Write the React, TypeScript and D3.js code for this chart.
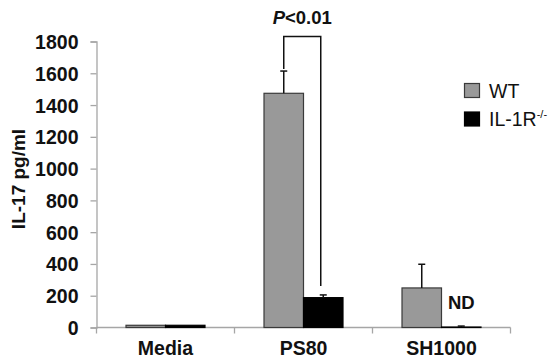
import React, { useEffect, useRef } from 'react';
import * as d3 from 'd3';

const categories = ['Media', 'PS80', 'SH1000'];
const series = ['WT', 'IL-1R'];
const wtValues = [14, 1474, 249];
const wtErrors = [0, 140, 149];
const koValues = [14, 188, 3];
const koErrors = [0, 17, 6];
const yTicks = [0, 200, 400, 600, 800, 1000, 1200, 1400, 1600, 1800];

const W = 556;
const H = 359;
const FONT = '"Liberation Sans", Arial, sans-serif';
const GRAY = '#999999';
const EDGE = '#3a3a3a';
const AXIS = '#a6a6a6';

export default function App() {
  const ref = useRef<SVGSVGElement>(null);

  useEffect(() => {
    if (!ref.current) return;
    const svg = d3.select(ref.current);
    svg.selectAll('*').remove();

    const x = d3.scaleBand().domain(categories).range([96.5, 510.5]).padding(0);
    const xs = d3.scaleBand().domain(series).range([0, x.bandwidth()]).paddingInner(0).paddingOuter(0.747);
    const y = d3.scaleLinear().domain([0, 1800]).range([327.5, 41.5]);

    const rows = categories.map((c, i) => [
      { cat: c, s: 'WT', v: wtValues[i], e: wtErrors[i], fill: GRAY, stroke: EDGE },
      { cat: c, s: 'IL-1R', v: koValues[i], e: koErrors[i], fill: '#000', stroke: '#000' },
    ]).flat();

    // y axis
    const ya = svg.append('g').attr('transform', 'translate(96.5,0)')
      .call(d3.axisLeft(y).tickValues(yTicks).tickFormat(d3.format('d')).tickSize(6).tickPadding(12));
    ya.select('.domain').attr('stroke', AXIS).attr('stroke-width', 1.3);
    ya.selectAll('line').attr('stroke', AXIS).attr('stroke-width', 1.3);
    ya.selectAll('text').attr('font-family', FONT).attr('font-size', '19.5px').attr('font-weight', 'bold')
      .attr('fill', '#111').attr('dy', '0.36em');

    // x axis
    const xa = svg.append('g').attr('transform', `translate(0,${y(0)})`);
    xa.append('line').attr('x1', 96.5).attr('x2', 510.5).attr('stroke', AXIS).attr('stroke-width', 1.3);
    const bounds = [...categories.map(c => x(c)!), x(categories[categories.length - 1])! + x.bandwidth()];
    xa.selectAll('line.tk').data(bounds).enter().append('line').attr('class', 'tk')
      .attr('x1', d => d).attr('x2', d => d).attr('y1', 0).attr('y2', 6)
      .attr('stroke', AXIS).attr('stroke-width', 1.3);
    xa.selectAll('text').data(categories).enter().append('text')
      .attr('x', d => x(d)! + x.bandwidth() / 2).attr('y', 27)
      .attr('text-anchor', 'middle').attr('font-family', FONT).attr('font-size', '19.5px')
      .attr('font-weight', 'bold').attr('fill', '#111').text(d => d);

    // bars
    svg.selectAll('rect.bar').data(rows).enter().append('rect').attr('class', 'bar')
      .attr('x', d => x(d.cat)! + xs(d.s)!).attr('width', xs.bandwidth())
      .attr('y', d => y(d.v)).attr('height', d => y(0) - y(d.v))
      .attr('fill', d => d.fill).attr('stroke', d => d.stroke).attr('stroke-width', 1.2);

    // error bars (upper only)
    const eb = rows.filter(d => d.e > 0);
    const cx = (d: any) => x(d.cat)! + xs(d.s)! + xs.bandwidth() / 2;
    svg.selectAll('line.err').data(eb).enter().append('line').attr('class', 'err')
      .attr('x1', cx).attr('x2', cx).attr('y1', d => y(d.v)).attr('y2', d => y(d.v + d.e))
      .attr('stroke', '#111').attr('stroke-width', 1.5);
    svg.selectAll('line.cap').data(eb).enter().append('line').attr('class', 'cap')
      .attr('x1', d => cx(d) - 3.5).attr('x2', d => cx(d) + 3.5)
      .attr('y1', d => y(d.v + d.e)).attr('y2', d => y(d.v + d.e))
      .attr('stroke', '#111').attr('stroke-width', 1.5);

    // significance bracket
    const a = rows.find(d => d.cat === 'PS80' && d.s === 'WT')!;
    const b = rows.find(d => d.cat === 'PS80' && d.s === 'IL-1R')!;
    const top = 36.5;
    const ax = cx(a);
    const bx = cx(b) - 2.5;
    svg.append('path')
      .attr('d', `M${ax},${y(a.v + a.e) - 2}V${top}H${bx}V${y(b.v + b.e) - 9}`)
      .attr('fill', 'none').attr('stroke', '#111').attr('stroke-width', 1.5);
    const pt = svg.append('text').attr('x', (ax + bx) / 2).attr('y', 24).attr('text-anchor', 'middle')
      .attr('font-family', FONT).attr('font-size', '18.5px').attr('font-weight', 'bold').attr('fill', '#111');
    pt.append('tspan').attr('font-style', 'italic').text('P');
    pt.append('tspan').text('<0.01');

    // ND label
    const nd = rows.find(d => d.cat === 'SH1000' && d.s === 'IL-1R')!;
    svg.append('text').attr('x', cx(nd)).attr('y', 309).attr('text-anchor', 'middle')
      .attr('font-family', FONT).attr('font-size', '18.5px').attr('font-weight', 'bold').attr('fill', '#111')
      .text('ND');

    // y title
    svg.append('text').attr('transform', 'translate(25,179) rotate(-90)').attr('text-anchor', 'middle')
      .attr('font-family', FONT).attr('font-size', '19px').attr('font-weight', 'bold').attr('fill', '#111')
      .text('IL-17 pg/ml');

    // legend
    const leg = svg.append('g').attr('transform', 'translate(464.5,83.5)');
    const legItems = [
      { fill: GRAY, stroke: EDGE, label: 'WT', sup: '' },
      { fill: '#000', stroke: '#000', label: 'IL-1R', sup: '-/-' },
    ];
    legItems.forEach((it, i) => {
      const g = leg.append('g').attr('transform', `translate(0,${i * 28.5})`);
      g.append('rect').attr('width', 15).attr('height', 14).attr('fill', it.fill).attr('stroke', it.stroke).attr('stroke-width', 1.2);
      const t = g.append('text').attr('x', 24.5).attr('y', 14).attr('font-family', FONT)
        .attr('font-size', '19.5px').attr('fill', '#111');
      t.append('tspan').text(it.label);
      if (it.sup) t.append('tspan').attr('font-size', '11px').attr('dy', -8).text(it.sup);
    });
  }, []);

  return (
    <svg ref={ref} width={W} height={H}
      style={{ position: 'absolute', left: 0, top: 0, background: '#fff' }} />
  );
}
